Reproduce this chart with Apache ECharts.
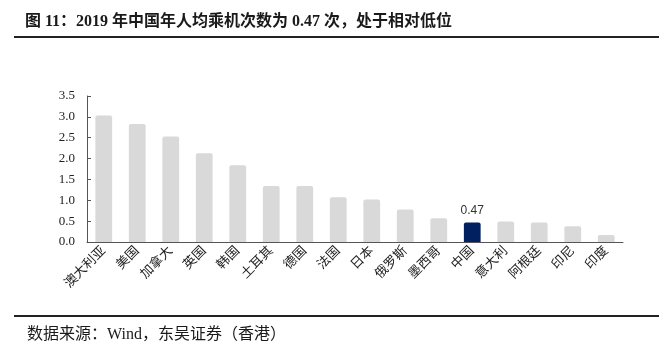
<!DOCTYPE html>
<html><head><meta charset="utf-8">
<script src="https://cdn.jsdelivr.net/npm/echarts@6/dist/echarts.min.js"></script>
<style>html,body{margin:0;padding:0;background:#fff}#c{width:670px;height:360px}</style>
</head><body><div id="c"></div>
<script>
const categories = ['澳大利亚','美国','加拿大','英国','韩国','土耳其','德国','法国','日本','俄罗斯','墨西哥','中国','意大利','阿根廷','印尼','印度'];
const values = [3.03,2.83,2.53,2.13,1.84,1.34,1.34,1.07,1.02,0.78,0.57,0.47,0.49,0.47,0.38,0.17];
const highlight = '中国';
const titleText = '图 11：2019 年中国年人均乘机次数为 0.47 次，处于相对低位';
const sourceText = '数据来源：Wind，东吴证券（香港）';

const serif = '"Liberation Serif","Times New Roman","Noto Sans CJK SC",serif';
const chart = echarts.init(document.getElementById('c'));
chart.setOption({
  animation:false,
  title:[
    {text:titleText,left:20,top:9,textStyle:{fontFamily:serif,fontSize:16,fontWeight:'bold',color:'#1a1a1a'}},
    {text:sourceText,left:22,top:322,textStyle:{fontFamily:serif,fontSize:16,fontWeight:'normal',color:'#1a1a1a'}}
  ],
  graphic:[
    {type:'line',shape:{x1:14,y1:37,x2:659,y2:37},style:{stroke:'#222',lineWidth:2}},
    {type:'line',shape:{x1:14,y1:316,x2:659,y2:316},style:{stroke:'#222',lineWidth:2}}
  ],
  grid:{left:87,right:47,top:96,bottom:118},
  xAxis:{type:'category',data:categories,
    axisLine:{lineStyle:{color:'#555',width:1}},
    axisTick:{inside:true,length:4,lineStyle:{color:'#555'}},
    axisLabel:{rotate:45,interval:0,fontFamily:serif,fontSize:13,color:'#222',margin:7}},
  yAxis:{type:'value',min:0,max:3.5,interval:0.5,
    splitLine:{show:false},
    axisLine:{show:true,lineStyle:{color:'#555'}},
    axisTick:{show:true,inside:true,length:4,lineStyle:{color:'#555'}},
    axisLabel:{fontFamily:serif,fontSize:13,color:'#222',formatter:v=>v.toFixed(1),margin:12}},
  series:[{type:'bar',barWidth:'50%',
    data:values.map((v,i)=>({value:v,
      itemStyle:{color:categories[i]===highlight?'#002060':'#d9d9d9',borderRadius:[2,2,0,0]},
      label:{show:categories[i]===highlight,position:'top',color:'#333',fontSize:12,distance:6,fontFamily:'"Liberation Sans",Arial,sans-serif',formatter:p=>p.value.toFixed(2)}}))
  }]
});
</script></body></html>
